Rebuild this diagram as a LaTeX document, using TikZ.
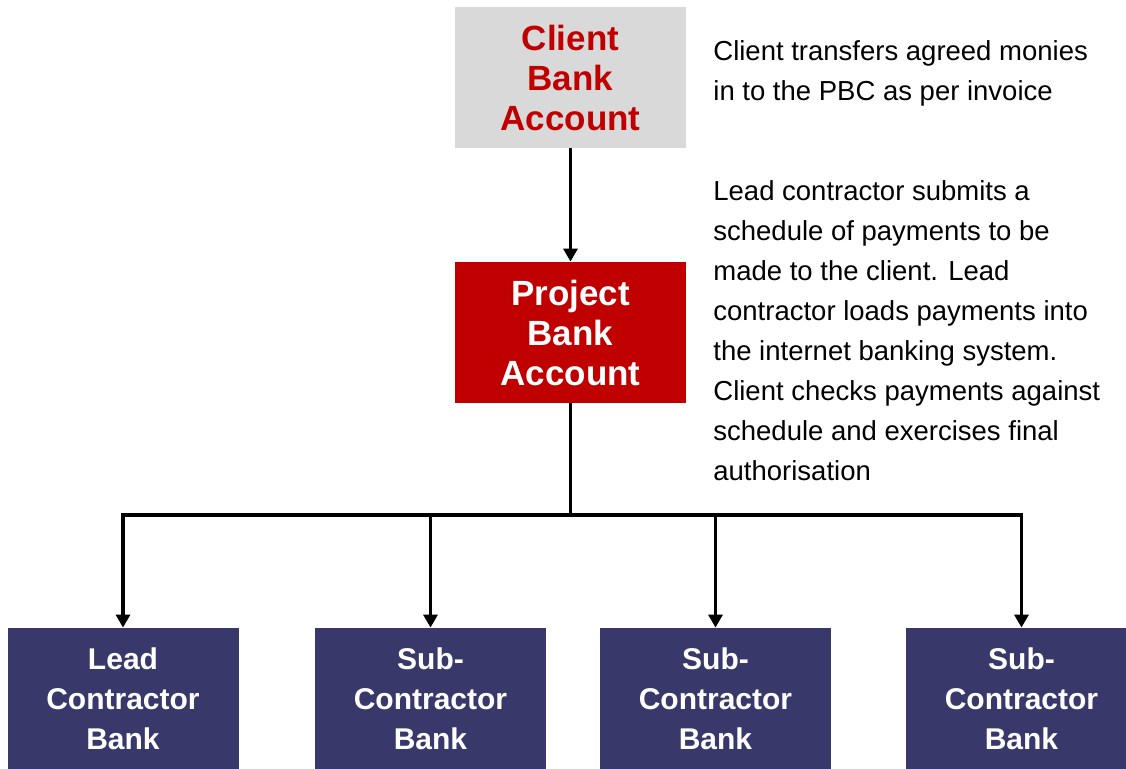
\documentclass[tikz,border=0pt]{standalone}
\usepackage{fontspec}
\setmainfont{Liberation Sans}
\usepackage{xcolor}
\definecolor{pbcred}{HTML}{C00000}
\definecolor{pbcgray}{HTML}{D9D9D9}
\definecolor{pbcnavy}{HTML}{38386B}
\usetikzlibrary{arrows.meta,positioning,calc}

\begin{document}
\begin{tikzpicture}[x=0.5pt,y=-0.5pt,
  acct/.style={minimum width=115.5pt, minimum height=70.5pt, inner sep=0pt,
               align=center, font=\fontsize{17.5}{20}\selectfont\bfseries},
  bank/.style={acct, fill=pbcnavy, text=white, font=\fontsize{15}{20}\selectfont\bfseries},
  note/.style={anchor=north west, inner sep=0pt, align=left,
               font=\fontsize{13.75}{20}\selectfont},
  link/.style={draw=black, line width=1.6pt},
  arr/.style={link, -{Triangle[width=7pt,length=6.5pt]}}
]
  \useasboundingbox (0,0) rectangle (1126,769);

  \node[acct, fill=pbcgray, text=pbcred] (client) at (570.5,77.5)  {Client\\Bank\\Account};
  \node[acct, fill=pbcred, text=white]   (pbc)    at (570.5,332.5) {Project\\Bank\\Account};
  \node[bank] (lead) at (123,698.5)    {Lead\\Contractor\\Bank};
  \node[bank] (sub1) at (430.5,698.5)  {Sub-\\Contractor\\Bank};
  \node[bank] (sub2) at (715.5,698.5)  {Sub-\\Contractor\\Bank};
  \node[bank] (sub3) at (1021.5,698.5) {Sub-\\Contractor\\Bank};

  \node[note] (transfer) at (713,40.5)  {Client transfers agreed monies\\in to the PBC as per invoice};
  \node[note] (schedule) at (713,180.5) {Lead contractor submits a\\schedule of payments to be\\made to the client. Lead\\contractor loads payments into\\the internet banking system.\\Client checks payments against\\schedule and exercises final\\authorisation};

  \coordinate (split) at (570.5,515);

  \draw[arr]  (client.south) -- (pbc.north);
  \draw[link] (pbc.south) -- (split);
  \draw[arr]  (split) -| (lead.north);
  \draw[arr]  (split) -| (sub3.north);
  \draw[arr]  (split -| sub1.north) -- (sub1.north);
  \draw[arr]  (split -| sub2.north) -- (sub2.north);
\end{tikzpicture}
\end{document}
